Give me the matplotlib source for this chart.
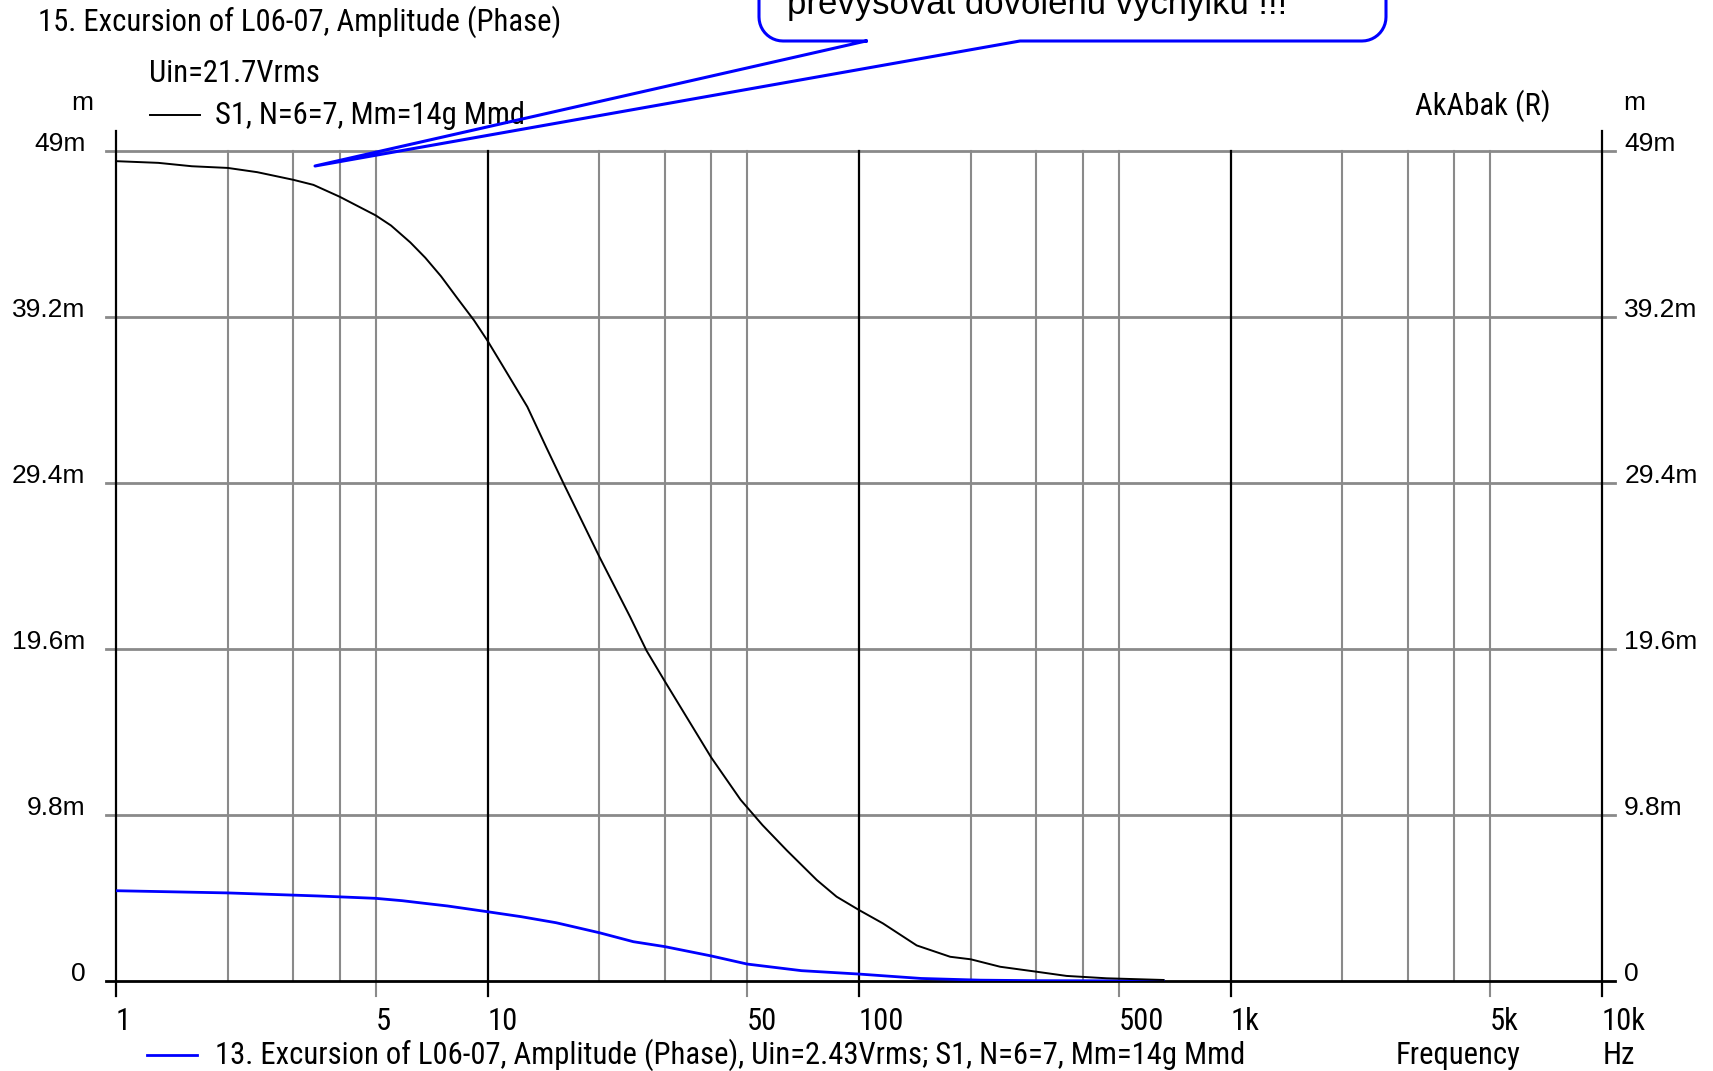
import numpy as np
import matplotlib
matplotlib.use('Agg')
import matplotlib.pyplot as plt
from matplotlib.lines import Line2D
from matplotlib import font_manager

W, H, DPI = 1713, 1071, 100

# ---- data (frequency in Hz, excursion in mm) ----
freq_black = [1, 1.3, 1.6, 2, 2.4, 3, 3.4, 4, 5, 5.5, 6.2, 6.8, 7.5, 8.3, 9.2, 10,
              11, 12.8, 14.4, 16, 20, 24.2, 26.8, 30, 40, 48, 55, 64, 77, 87, 100,
              116, 143, 176, 200, 240, 300, 362, 464, 660]
exc_black = [48.4, 48.3, 48.1, 48.0, 47.75, 47.3, 47.0, 46.3, 45.2, 44.6, 43.6, 42.7,
             41.6, 40.3, 39.0, 37.8, 36.3, 33.9, 31.5, 29.4, 25.05, 21.5, 19.5, 17.7,
             13.2, 10.7, 9.2, 7.7, 5.96, 4.98, 4.19, 3.4, 2.1, 1.43, 1.28, 0.84, 0.55,
             0.3, 0.16, 0.06]

freq_blue = [1, 2, 3.5, 5, 5.9, 6.8, 7.8, 10, 12.3, 15.3, 20, 24.7, 30, 40, 50, 70,
             100, 147, 212, 300, 660]
exc_blue = [5.33, 5.2, 5.02, 4.88, 4.74, 4.58, 4.43, 4.09, 3.8, 3.44, 2.85, 2.32,
            2.03, 1.48, 1.0, 0.61, 0.41, 0.15, 0.05, 0.02, 0.005]

x_grid_major = [1, 10, 100, 1000, 10000]
x_grid_minor = [2, 3, 4, 5, 20, 30, 40, 50, 200, 300, 400, 500, 2000, 3000, 4000, 5000]
x_tick_vals = [1, 5, 10, 50, 100, 500, 1000, 5000, 10000]
x_tick_labels = ['1', '5', '10', '50', '100', '500', '1k', '5k', '10k']
y_tick_vals = [0, 9.8, 19.6, 29.4, 39.2, 49]
y_tick_labels = ['0', '9.8m', '19.6m', '29.4m', '39.2m', '49m']

title = "15. Excursion of L06-07, Amplitude (Phase)"
uin_text = "Uin=21.7Vrms"
legend_black = "S1, N=6=7, Mm=14g Mmd"
legend_blue = "13. Excursion of L06-07, Amplitude (Phase), Uin=2.43Vrms; S1, N=6=7, Mm=14g Mmd"
callout_text = "prevysovat dovolenu vychylku !!!"

installed = {f.name for f in font_manager.fontManager.ttflist}
narrow_choice = next((n for n in ['Liberation Sans Narrow', 'DejaVu Sans Condensed',
                                  'Roboto Condensed', 'Open Sans Condensed']
                      if n in installed), 'Liberation Sans')
NARROW = [narrow_choice, 'DejaVu Sans']
ARIAL = ['Liberation Sans', 'DejaVu Sans']
BLUE = '#0000ff'
GRAY = '#8a8a8a'

fig = plt.figure(figsize=(W / DPI, H / DPI), dpi=DPI)
fig.patch.set_facecolor('white')
renderer = fig.canvas.get_renderer()


def fx(px):
    return px / W


def fy(py):
    return 1 - py / H


# determine narrow font size so the long bottom legend spans its reference width
probe = fig.text(0, 0, legend_blue, family=NARROW, fontsize=20)
NSIZE = 20 * 1027 / probe.get_window_extent(renderer).width
probe.remove()

L, R, T, B = 116, 1602, 151, 981
ax = fig.add_axes([fx(L), fy(B), (R - L) / W, (B - T) / H])
ax.set_xscale('log')
ax.set_xlim(1, 1e4)
ax.set_ylim(0, 49)
for s in ax.spines.values():
    s.set_visible(False)
ax.minorticks_off()

pxw, pxh = R - L, B - T
below = -15 / pxh
above = 1 + 20 / pxh

# vertical grid lines
for f in x_grid_minor:
    lo = below if f in x_tick_vals else 0
    ax.plot([f, f], [lo, 1], color=GRAY, lw=1.5, transform=ax.get_xaxis_transform(),
            clip_on=False, zorder=1)
for f in x_grid_major:
    hi = above if f in (1, 10000) else 1
    ax.plot([f, f], [below, hi], color='black', lw=1.6, transform=ax.get_xaxis_transform(),
            clip_on=False, zorder=2)

# horizontal grid lines
for y in y_tick_vals:
    c = 'black' if y == 0 else GRAY
    ax.plot([-10 / pxw, 1 + 13 / pxw], [y, y], color=c, lw=2.0,
            transform=ax.get_yaxis_transform(), clip_on=False, zorder=1 if y else 3)

# curves
ax.plot(freq_blue, exc_blue, color=BLUE, lw=2.0, zorder=4)
ax.plot(freq_black, exc_black, color='black', lw=1.4, zorder=5)

# ticks
ax.set_xticks(x_tick_vals, x_tick_labels)
ax.tick_params(axis='x', length=0, pad=19)
for lbl in ax.get_xticklabels():
    lbl.set_ha('left')
    lbl.set_fontfamily(NARROW)
    lbl.set_fontsize(NSIZE)

YSIZE = 19
ax.set_yticks(y_tick_vals, y_tick_labels)
ax.tick_params(axis='y', length=0, pad=22)
for lbl in ax.get_yticklabels():
    lbl.set_va('baseline')
    lbl.set_fontfamily(ARIAL)
    lbl.set_fontsize(YSIZE)

sec = ax.secondary_yaxis('right')
sec.set_yticks(y_tick_vals, y_tick_labels)
sec.tick_params(axis='y', length=0, pad=16)
for s in sec.spines.values():
    s.set_visible(False)
for lbl in sec.get_yticklabels():
    lbl.set_va('baseline')
    lbl.set_ha('left')
    lbl.set_fontfamily(ARIAL)
    lbl.set_fontsize(YSIZE)

# texts
fig.text(fx(38), fy(22), title, family=NARROW, fontsize=NSIZE, va='center', ha='left')
fig.text(fx(149), fy(73), uin_text, family=NARROW, fontsize=NSIZE, va='center', ha='left')
fig.add_artist(Line2D([fx(150), fx(200)], [fy(115), fy(115)], color='black', lw=1.4))
fig.text(fx(215), fy(115), legend_black, family=NARROW, fontsize=NSIZE, va='center', ha='left')
fig.text(fx(82), fy(110), 'm', family=ARIAL, fontsize=YSIZE, va='baseline', ha='center')
fig.text(fx(1634), fy(110), 'm', family=ARIAL, fontsize=YSIZE, va='baseline', ha='center')
fig.text(fx(1415), fy(106), 'AkAbak (R)', family=NARROW, fontsize=NSIZE, va='center', ha='left')

fig.add_artist(Line2D([fx(147), fx(197)], [fy(1055), fy(1055)], color=BLUE, lw=2.0))
fig.text(fx(215), fy(1055), legend_blue, family=NARROW, fontsize=NSIZE, va='center', ha='left')
fig.text(fx(1396), fy(1055), 'Frequency', family=NARROW, fontsize=NSIZE, va='center', ha='left')
fig.text(fx(1603), fy(1055), 'Hz', family=NARROW, fontsize=NSIZE, va='center', ha='left')

# callout balloon (pixel coords)
bl, br, bb, btop, r = 759, 1386, 41, -60, 24
gap_l, gap_r, tip = 866, 1020, (315, 166)
pts = [(gap_l, bb), (bl + r, bb)]
th = np.linspace(np.pi / 2, np.pi, 12)
cx, cy = bl + r, bb - r
pts += [(cx + r * np.cos(t), cy + r * np.sin(t)) for t in th]
pts += [(bl, btop), (br, btop), (br, bb - r)]
th = np.linspace(0, np.pi / 2, 12)
cx, cy = br - r, bb - r
pts += [(cx + r * np.cos(t), cy + r * np.sin(t)) for t in th]
pts += [(gap_r, bb), tip, (gap_l, bb)]
px = [fx(p[0]) for p in pts]
py = [fy(p[1]) for p in pts]
fig.add_artist(Line2D(px, py, color=BLUE, lw=2.2, solid_joinstyle='round', zorder=10))
fig.text(fx(787), fy(14), callout_text, family=ARIAL, fontsize=25, va='baseline', ha='left')

fig.savefig('out.png', dpi=DPI, facecolor='white')
